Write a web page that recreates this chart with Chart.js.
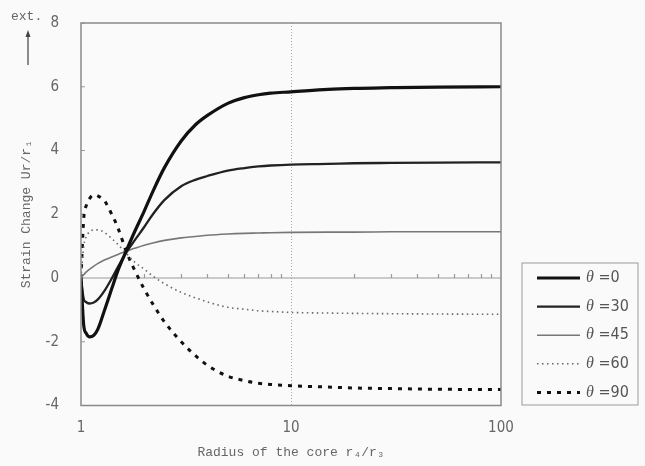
<!DOCTYPE html>
<html lang="en">
<head>
<meta charset="UTF-8">
<title>Strain Change vs Radius of the core</title>
<script src="https://cdn.jsdelivr.net/npm/chart.js"></script>
<style>
  html, body { margin: 0; padding: 0; background: #fafafa; }
  #wrap { position: relative; width: 645px; height: 466px; }
</style>
</head>
<body>
<div id="wrap"><canvas id="chart"></canvas></div>
<script>
  // radius of the core r4/r3 (log axis)
  const radius = [1, 1.03, 1.06, 1.1, 1.15, 1.2, 1.3, 1.4, 1.5, 1.65, 1.8, 2, 2.2, 2.5, 3, 3.5, 4, 5, 6, 7, 8, 10, 15, 20, 30, 50, 100];

  // strain change Ur/r1 for each angle
  const theta0  = [0, -1.48, -1.74, -1.85, -1.8, -1.62, -0.97, -0.34, 0.24, 0.88, 1.45, 2.1, 2.72, 3.47, 4.3, 4.8, 5.1, 5.48, 5.66, 5.75, 5.8, 5.84, 5.92, 5.95, 5.97, 5.99, 6.0];
  const theta30 = [0, -0.65, -0.76, -0.8, -0.77, -0.68, -0.38, -0.02, 0.35, 0.82, 1.18, 1.6, 2.0, 2.45, 2.88, 3.08, 3.2, 3.37, 3.45, 3.5, 3.53, 3.56, 3.58, 3.6, 3.61, 3.62, 3.63];
  const theta45 = [0, 0.1, 0.19, 0.28, 0.37, 0.45, 0.57, 0.66, 0.74, 0.84, 0.93, 1.03, 1.1, 1.18, 1.26, 1.3, 1.34, 1.38, 1.4, 1.41, 1.42, 1.43, 1.44, 1.44, 1.45, 1.45, 1.45];
  const theta60 = [0, 1.0, 1.3, 1.45, 1.51, 1.51, 1.42, 1.24, 1.05, 0.76, 0.5, 0.28, 0.06, -0.18, -0.45, -0.62, -0.75, -0.92, -0.98, -1.03, -1.05, -1.08, -1.1, -1.11, -1.12, -1.13, -1.14];
  const theta90 = [0, 1.85, 2.28, 2.5, 2.61, 2.58, 2.4, 2.0, 1.57, 0.8, 0.25, -0.35, -0.82, -1.38, -2.0, -2.43, -2.74, -3.08, -3.22, -3.3, -3.34, -3.38, -3.42, -3.45, -3.47, -3.49, -3.5];

  const seriesLabels = ['θ =0', 'θ =30', 'θ =45', 'θ =60', 'θ =90'];
  const xTickLabels = [1, 10, 100];
  const xMinorTicks = [2, 3, 4, 5, 6, 7, 8, 9, 20, 30, 40, 50, 60, 70, 80, 90];
  const yTicks = [-4, -2, 0, 2, 4, 6, 8];

  const numFont = "'Liberation Sans Narrow', 'DejaVu Sans Condensed', 'Liberation Sans', sans-serif";
  const monoFont = "'Liberation Mono', 'DejaVu Sans Mono', monospace";

  function points(values) {
    return radius.map((r, i) => ({ x: r, y: values[i] }));
  }

  // zero line with minor log ticks, inward y ticks, frame, legend, "ext." arrow
  const decor = {
    id: 'decor',
    beforeDatasetsDraw(chart) {
      const { ctx, chartArea: a, scales: { x, y } } = chart;
      const y0 = y.getPixelForValue(0);
      ctx.save();
      ctx.strokeStyle = '#9a9a9a';
      ctx.lineWidth = 1.2;
      ctx.beginPath();
      ctx.moveTo(a.left, y0);
      ctx.lineTo(a.right, y0);
      xMinorTicks.forEach(v => {
        const px = Math.round(x.getPixelForValue(v)) + 0.5;
        ctx.moveTo(px, y0);
        ctx.lineTo(px, y0 - 4);
      });
      yTicks.forEach(v => {
        const py = y.getPixelForValue(v);
        ctx.moveTo(a.left, py);
        ctx.lineTo(a.left + 4, py);
      });
      ctx.stroke();
      ctx.restore();
    },
    afterDraw(chart) {
      const { ctx, chartArea: a } = chart;
      ctx.save();
      // plot frame
      ctx.strokeStyle = '#8a8a8a';
      ctx.lineWidth = 1.5;
      ctx.strokeRect(a.left, a.top, a.right - a.left, a.bottom - a.top);

      // legend box
      ctx.strokeStyle = '#aaa';
      ctx.lineWidth = 1.2;
      ctx.strokeRect(522, 263, 116, 142);
      chart.data.datasets.forEach((ds, i) => {
        const ly = 278 + i * 28.6;
        ctx.beginPath();
        ctx.setLineDash(ds.borderDash || []);
        ctx.strokeStyle = ds.borderColor;
        ctx.lineWidth = ds.borderWidth;
        ctx.moveTo(537, ly);
        ctx.lineTo(580, ly);
        ctx.stroke();
        ctx.setLineDash([]);
        ctx.fillStyle = '#555';
        ctx.textBaseline = 'middle';
        ctx.textAlign = 'left';
        ctx.font = "italic 16px 'Liberation Serif', serif";
        ctx.fillText(ds.label.charAt(0), 586, ly);
        const w = ctx.measureText(ds.label.charAt(0)).width;
        ctx.font = "16px " + numFont;
        ctx.fillText(ds.label.slice(1), 586 + w, ly);
      });

      // "ext." with arrow
      ctx.fillStyle = '#666';
      ctx.font = '13px ' + monoFont;
      ctx.textBaseline = 'middle';
      ctx.fillText('ext.', 11, 17);
      ctx.strokeStyle = '#666';
      ctx.lineWidth = 1.5;
      ctx.beginPath();
      ctx.moveTo(28, 65);
      ctx.lineTo(28, 35);
      ctx.stroke();
      ctx.fillStyle = '#444';
      ctx.beginPath();
      ctx.moveTo(28, 30);
      ctx.lineTo(25.5, 37);
      ctx.lineTo(30.5, 37);
      ctx.closePath();
      ctx.fill();
      ctx.restore();
    }
  };

  new Chart(document.getElementById('chart'), {
    type: 'line',
    data: {
      datasets: [
        { label: seriesLabels[0], data: points(theta0), borderColor: '#111', borderWidth: 3.2 },
        { label: seriesLabels[1], data: points(theta30), borderColor: '#222', borderWidth: 2.3 },
        { label: seriesLabels[2], data: points(theta45), borderColor: '#777', borderWidth: 1.6 },
        { label: seriesLabels[3], data: points(theta60), borderColor: '#666', borderWidth: 1.6, borderDash: [1.5, 3.5] },
        { label: seriesLabels[4], data: points(theta90), borderColor: '#111', borderWidth: 3, borderDash: [4, 6] }
      ]
    },
    options: {
      responsive: true,
      maintainAspectRatio: false,
      animation: false,
      layout: { padding: { top: 13, right: 144, left: 0, bottom: 0 } },
      elements: {
        point: { radius: 0 },
        line: { cubicInterpolationMode: 'monotone', fill: false, borderCapStyle: 'butt' }
      },
      plugins: { legend: { display: false }, tooltip: { enabled: false } },
      scales: {
        x: {
          type: 'logarithmic',
          min: 1,
          max: 100,
          afterBuildTicks: s => { s.ticks = xTickLabels.map(v => ({ value: v })); },
          afterFit: s => { s.height = 60.5; },
          ticks: { color: '#666', padding: 14, autoSkip: false, maxRotation: 0, font: { family: numFont, size: 15 }, callback: v => String(v) },
          grid: { drawTicks: false, lineWidth: 1, color: c => (c.tick && c.tick.value === 10 ? '#aaa' : 'rgba(0,0,0,0)') },
          border: { display: false, dash: [1, 2] },
          title: { display: true, text: 'Radius of the core r₄/r₃', color: '#666', font: { family: monoFont, size: 13 }, padding: { top: 0, bottom: 6 } }
        },
        y: {
          min: -4,
          max: 8,
          afterBuildTicks: s => { s.ticks = yTicks.map(v => ({ value: v })); },
          afterFit: s => { s.width = 81; },
          ticks: { color: '#666', padding: 14, font: { family: numFont, size: 15 } },
          grid: { display: false },
          border: { display: false },
          title: { display: true, text: 'Strain Change Ur/r₁', color: '#666', font: { family: monoFont, size: 13 }, padding: { top: 19, bottom: 0 } }
        }
      }
    },
    plugins: [decor]
  });
</script>
</body>
</html>
